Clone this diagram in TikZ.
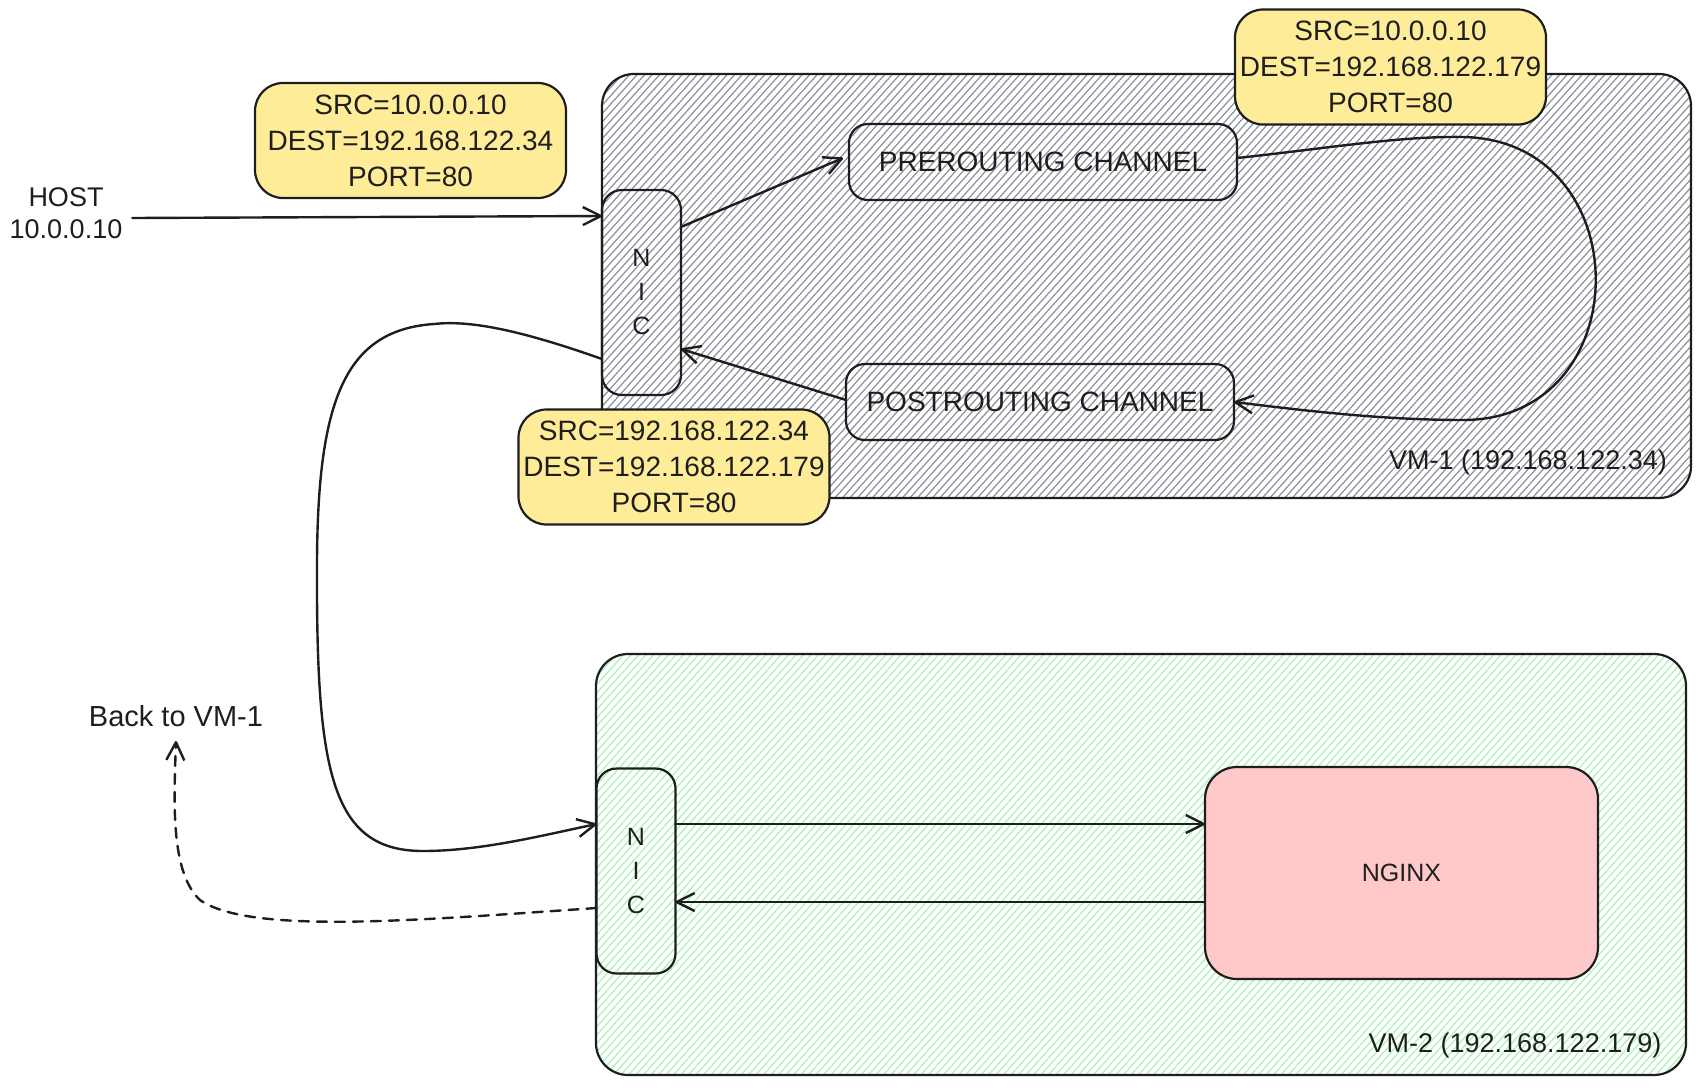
\documentclass[tikz,border=0pt]{standalone}
\usepackage{fontspec}
\setmainfont{Liberation Sans}
\usetikzlibrary{arrows.meta}
\definecolor{ink}{HTML}{1E1E1E}
\definecolor{noteyellow}{HTML}{FFEC99}
\definecolor{nginxpink}{HTML}{FFC9C9}
\definecolor{hatchgreen}{HTML}{B2F2BB}
\definecolor{hatchgray}{HTML}{8A9199}
\begin{document}
\begin{tikzpicture}[x=0.5pt,y=-0.5pt,
  every node/.style={inner sep=0pt, outer sep=0pt, text=ink},
  vmbox/.style={draw=ink, line width=1.1pt, rounded corners=16pt},
  nicbox/.style={draw=ink, line width=1.1pt, rounded corners=10pt,
    minimum width=39.5pt, minimum height=102.5pt, align=center,
    font=\fontsize{12.5}{17}\selectfont},
  chanbox/.style={draw=ink, line width=1.1pt, rounded corners=9.5pt,
    minimum width=194pt, minimum height=38pt,
    font=\fontsize{14}{16}\selectfont},
  notebox/.style={draw=ink, fill=noteyellow, line width=1.1pt, rounded corners=14pt,
    minimum width=155.5pt, minimum height=57.5pt, align=center,
    font=\fontsize{14}{18}\selectfont},
  lbl/.style={font=\fontsize{13.5}{16}\selectfont, align=center},
  conn/.style={draw=ink, line width=1.2pt, line cap=round,
    -{Straight Barb[length=9pt,width=9pt,line join=round]}},
  hatchA/.style={draw=hatchgray, line width=0.6pt},
  hatchB/.style={draw=hatchgreen, line width=0.7pt}
]
\useasboundingbox (0,0) rectangle (1701,1087);

% VM-1 hatch
\begin{scope}
  \clip[rounded corners=16pt] (602,74) rectangle (1691,498);
  \foreach \i in {0,...,202} \draw[hatchA] ({218+\i*7.5},500) -- ++(384,-428);
\end{scope}
% VM-2 hatch
\begin{scope}
  \clip[rounded corners=16pt] (596,654) rectangle (1686,1075);
  \foreach \i in {0,...,202} \draw[hatchB] ({214+\i*7.5},1077) -- ++(382,-425);
\end{scope}

% containers
\node[vmbox, minimum width=544.5pt, minimum height=212pt] (vm1) at (1146.5,286) {};
\node[vmbox, minimum width=545pt, minimum height=210.5pt] (vm2) at (1141,864.5) {};
\node[lbl] (vm1lbl) at (1528,463) {VM-1 (192.168.122.34)};
\node[lbl] (vm2lbl) at (1515,1045) {VM-2 (192.168.122.179)};

% inner boxes
\node[nicbox] (nic1) at (641.5,292.5) {N\\I\\C};
\node[nicbox] (nic2) at (636,871) {N\\I\\C};
\node[chanbox] (pre) at (1043,162) {PREROUTING CHANNEL};
\node[chanbox] (post) at (1040,402) {POSTROUTING CHANNEL};
\node[draw=ink, fill=nginxpink, line width=1.1pt, rounded corners=16pt,
  minimum width=196.5pt, minimum height=106pt,
  font=\fontsize{12.5}{15}\selectfont] (nginx) at (1401.5,873) {NGINX};

% free labels
\node[lbl] (host) at (66,213) {HOST\\10.0.0.10};
\node[font=\fontsize{14.5}{17}\selectfont] (back) at (176,716) {Back to VM-1};

% connectors
\draw[conn] ([xshift=5pt]host.east |- 0,218) -- (nic1.west |- 0,216);
\draw[conn] (nic1.east |- 0,227) -- ([xshift=-3pt]pre.west |- 0,158);
\draw[conn] (pre.east |- 0,158) .. controls (1330,148) and (1400,136) .. (1463,137)
  .. controls (1640,140) and (1640,420) .. (1463,420)
  .. controls (1380,420) and (1300,410) .. (post.east |- 0,402);
\draw[conn] (post.west |- 0,400) -- (nic1.east |- 0,349);
\draw[conn] (nic1.west |- 0,359) .. controls (520,330) and (470,320) .. (434,324)
  .. controls (345,330) and (318,400) .. (317,560)
  .. controls (316,770) and (330,851) .. (423,851)
  .. controls (480,851) and (540,836) .. (nic2.west |- 0,824);
\draw[conn, dash pattern=on 5pt off 4pt] (nic2.west |- 0,908)
  .. controls (420,920) and (250,935) .. (200,900)
  .. controls (170,872) and (174,800) .. (back.south |- 0,741);
\draw[conn] (nic2.east |- 0,824) -- (nginx.west |- 0,824);
\draw[conn] (nginx.west |- 0,902) -- (nic2.east |- 0,902);

% packet notes
\node[notebox] (note1) at (410.5,140.5) {SRC=10.0.0.10\\DEST=192.168.122.34\\PORT=80};
\node[notebox] (note2) at (1390.5,67) {SRC=10.0.0.10\\DEST=192.168.122.179\\PORT=80};
\node[notebox] (note3) at (674,467) {SRC=192.168.122.34\\DEST=192.168.122.179\\PORT=80};
\end{tikzpicture}
\end{document}
